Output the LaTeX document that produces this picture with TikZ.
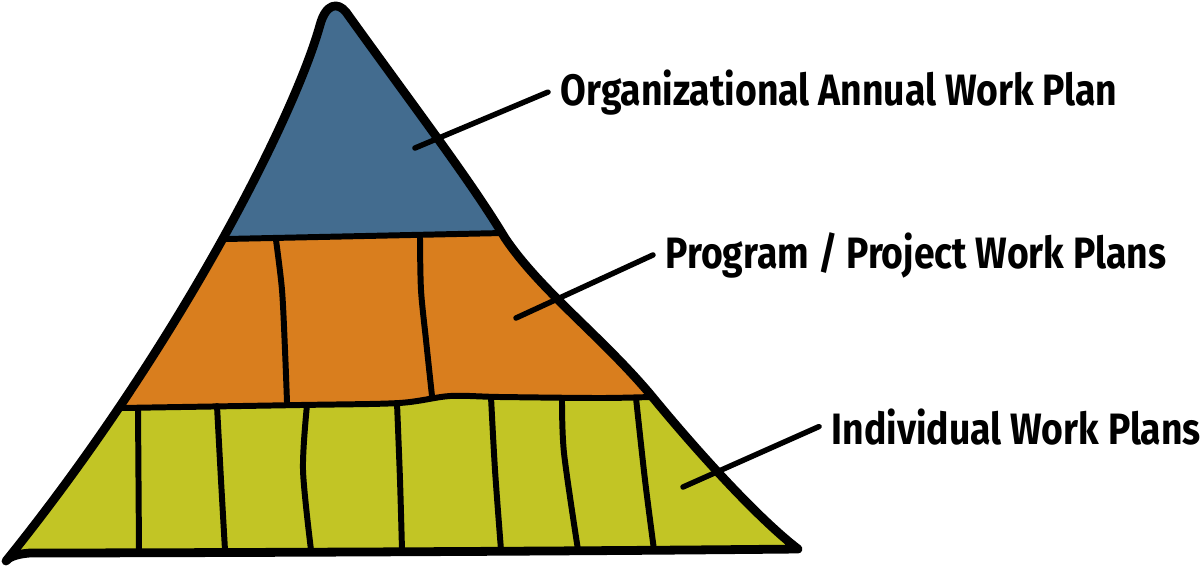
\documentclass[tikz,border=0pt]{standalone}
\usepackage{fontspec}
\setmainfont{Fira Sans}
\usetikzlibrary{positioning}
\definecolor{topblue}{RGB}{67,108,143}
\definecolor{midorange}{RGB}{217,126,30}
\definecolor{lowgreen}{RGB}{194,197,37}
\newcommand\narrow[1]{\scalebox{0.85}[1]{#1}}
\newcommand\pyramidpath{(6,561) .. controls (180,345) and (295,115) .. (320,25)
  .. controls (326,3) and (338,2) .. (346,12)
  .. controls (420,115) and (470,180) .. (505,238)
  .. controls (540,290) and (600,335) .. (650,394)
  .. controls (700,455) and (760,520) .. (798,549)
  .. controls (500,552) and (100,553) .. (30,553)
  .. controls (15,554) and (8,558) .. (6,561)}

\begin{document}
\begin{tikzpicture}[x=0.02cm,y=-0.02cm,line cap=round,line join=round,
                    rim/.style={line width=5pt},
                    split/.style={line width=3.4pt},
                    leader/.style={line width=3.1pt},
                    plan/.style={anchor=base west,inner xsep=7pt,inner ysep=0pt,
                                 font=\fontsize{25}{30}\selectfont\bfseries}]

  \useasboundingbox (0,0) rectangle (1200,566);

  % layer fills
  \begin{scope}
    \clip \pyramidpath -- cycle;
    \fill[lowgreen] (0,0) rectangle (1200,566);
    \fill[midorange] (0,0) -- (0,408) -- plot[smooth] coordinates {(120,408) (300,405) (399,403) (450,396) (500,397) (600,398) (660,398)} -- (1200,398) -- (1200,0) -- cycle;
    \fill[topblue] (0,0) -- (0,239) -- (226,239) -- (505,233) -- (1200,233) -- (1200,0) -- cycle;
  \end{scope}

  % layer borders
  \draw[split] (226,239) -- (503,233);
  \draw[split] plot[smooth] coordinates {(120,408) (300,405) (399,403) (450,396) (500,397) (600,398) (650,397)};

  % program cells
  \draw[split] plot[smooth] coordinates {(276,240) (282,290) (285,350) (287,402)};
  \draw[split] plot[smooth] coordinates {(420,238) (421,290) (426,340) (432,396)};

  % individual cells
  \draw[split] (138,408) -- (139,551);
  \draw[split] plot[smooth] coordinates {(217,406) (221,480) (225,550)};
  \draw[split] plot[smooth] coordinates {(307,405) (303,470) (311,550)};
  \draw[split] plot[smooth] coordinates {(397,403) (400,480) (402,550)};
  \draw[split] plot[smooth] coordinates {(491,397) (495,470) (501,550)};
  \draw[split] plot[smooth] coordinates {(562,398) (564,453) (578,550)};
  \draw[split] plot[smooth] coordinates {(636,398) (645,480) (654,550)};

  \draw[rim] \pyramidpath -- cycle;

  % labels
  \coordinate (orgSpot) at (415,148);
  \coordinate (progSpot) at (516,318);
  \coordinate (indSpot) at (683,487);

  \node[plan] (orgPlan)  at (548,105) {\narrow{Organizational Annual Work Plan}};
  \node[plan] (progPlan) at (653,268) {\narrow{Program / Project Work Plans}};
  \node[plan] (indPlan)  at (819,444) {\narrow{Individual Work Plans}};

  \draw[leader] (orgSpot) -- (orgPlan.west);
  \draw[leader] (progSpot) -- (progPlan.west);
  \draw[leader] (indSpot) -- (indPlan.west);
\end{tikzpicture}
\end{document}
